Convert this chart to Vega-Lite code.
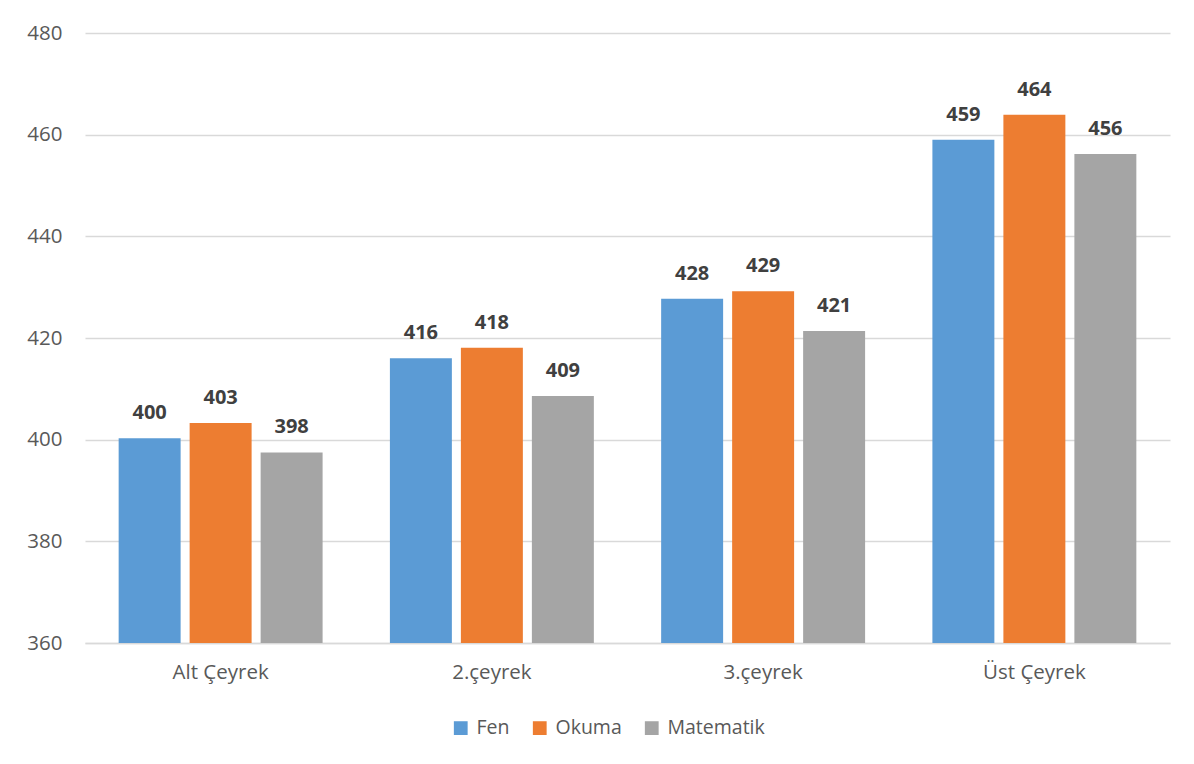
{
  "$schema": "https://vega.github.io/schema/vega-lite/v6.json",
  "width": 1085,
  "height": 610,
  "autosize": {"type": "none"},
  "padding": {"left": 85, "top": 33, "right": 24, "bottom": 121},
  "background": "white",
  "data": {
    "values": [
      {"cat": "Alt Çeyrek", "ders": "Fen", "puan": 400.3},
      {"cat": "Alt Çeyrek", "ders": "Okuma", "puan": 403.3},
      {"cat": "Alt Çeyrek", "ders": "Matematik", "puan": 397.5},
      {"cat": "2.çeyrek", "ders": "Fen", "puan": 416.0},
      {"cat": "2.çeyrek", "ders": "Okuma", "puan": 418.1},
      {"cat": "2.çeyrek", "ders": "Matematik", "puan": 408.6},
      {"cat": "3.çeyrek", "ders": "Fen", "puan": 427.7},
      {"cat": "3.çeyrek", "ders": "Okuma", "puan": 429.2},
      {"cat": "3.çeyrek", "ders": "Matematik", "puan": 421.4},
      {"cat": "Üst Çeyrek", "ders": "Fen", "puan": 459.0},
      {"cat": "Üst Çeyrek", "ders": "Okuma", "puan": 463.9},
      {"cat": "Üst Çeyrek", "ders": "Matematik", "puan": 456.2}
    ]
  },
  "encoding": {
    "x": {
      "field": "cat", "type": "nominal",
      "sort": ["Alt Çeyrek", "2.çeyrek", "3.çeyrek", "Üst Çeyrek"],
      "scale": {"paddingInner": 0, "paddingOuter": 0},
      "axis": {
        "title": null, "labelAngle": 0, "ticks": false,
        "domainColor": "#d9d9d9", "domainWidth": 1.3,
        "labelFont": "Open Sans", "labelFontSize": 20.5, "labelColor": "#595959",
        "labelPadding": 19
      }
    },
    "xOffset": {
      "field": "ders", "type": "nominal",
      "sort": ["Fen", "Okuma", "Matematik"],
      "scale": {"paddingInner": 0.127, "paddingOuter": 0.474}
    },
    "y": {
      "field": "puan", "type": "quantitative",
      "scale": {"domain": [360, 480], "nice": false, "zero": false},
      "axis": {
        "title": null, "values": [360, 380, 400, 420, 440, 460, 480],
        "labelOverlap": false,
        "domain": false, "ticks": false,
        "gridColor": "#d9d9d9", "gridWidth": 1.3,
        "labelFont": "Open Sans", "labelFontSize": 20.5, "labelColor": "#595959",
        "labelPadding": 23
      }
    }
  },
  "layer": [
    {
      "mark": {"type": "bar", "clip": true},
      "encoding": {
        "y2": {"datum": 360},
        "color": {
          "field": "ders", "type": "nominal",
          "sort": ["Fen", "Okuma", "Matematik"],
          "scale": {"domain": ["Fen", "Okuma", "Matematik"], "range": ["#5B9BD5", "#ED7D31", "#A5A5A5"]},
          "legend": {
            "title": null, "orient": "none", "direction": "horizontal",
            "legendX": 366, "legendY": 685,
            "symbolType": "square", "symbolSize": 190, "symbolStrokeWidth": 0,
            "labelFont": "Open Sans", "labelFontSize": 19.5, "labelColor": "#595959",
            "columnPadding": 20, "labelOffset": 6
          }
        }
      }
    },
    {
      "mark": {"type": "text", "baseline": "bottom", "dy": -15, "font": "Open Sans", "fontSize": 20, "fontWeight": "bold", "color": "#404040"},
      "encoding": {
        "text": {"field": "puan", "type": "quantitative", "format": ".0f"}
      }
    }
  ],
  "config": {"view": {"stroke": null}}
}
